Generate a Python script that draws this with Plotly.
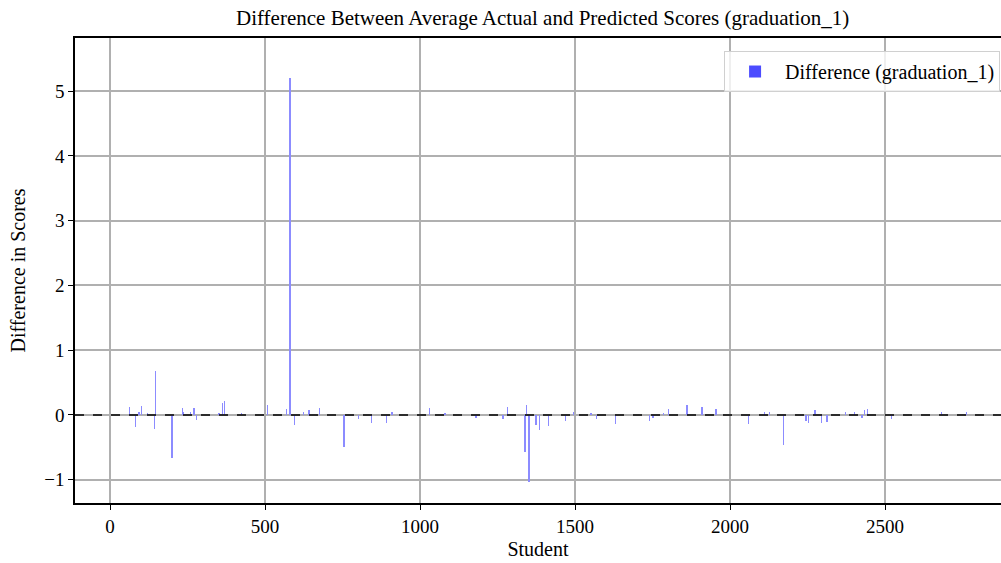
import plotly.graph_objects as go

# Students with a non-zero difference (all other students are 0)
students = [62, 82, 94, 101, 120, 144, 147, 200, 233, 237, 259, 271, 278, 352, 362, 369,
            425, 507, 570, 581, 595, 625, 642, 675, 755, 801, 843, 892, 909,
            1030, 1081, 1181, 1267, 1282, 1339, 1344, 1352, 1374, 1386, 1414, 1470, 1495,
            1551, 1569, 1631, 1741, 1751, 1785, 1802, 1861, 1910, 1955,
            2060, 2111, 2127, 2172, 2245, 2254, 2274, 2295, 2313, 2373, 2402, 2425, 2434,
            2444, 2520, 2683, 2763]
differences = [0.13, -0.19, 0.05, 0.14, 0.03, -0.21, 0.68, -0.66, 0.10, 0.04, 0.04, 0.11, -0.08,
               0.03, 0.19, 0.22, 0.03, 0.15, 0.09, 5.2, -0.16, 0.05, 0.08, 0.11, -0.49, -0.06,
               -0.13, -0.13, 0.04,
               0.11, 0.02, -0.04, -0.07, 0.12, -0.57, 0.16, -1.04, -0.16, -0.24, -0.17, -0.09,
               0.04, 0.03, -0.06, -0.14, -0.09, -0.05, 0.03, 0.09, 0.16, 0.13, 0.09,
               -0.14, 0.04, 0.04, -0.47, -0.09, -0.12, 0.08, -0.13, -0.11, 0.05, 0.04, -0.04,
               0.07, 0.09, -0.07, 0.05, 0.05]

x_ticks = [0, 500, 1000, 1500, 2000, 2500]
y_ticks = [-1, 0, 1, 2, 3, 4, 5]
y_tick_text = ["\u22121", "0", "1", "2", "3", "4", "5"]

FONT = "Liberation Serif, Times New Roman, serif"

fig = go.Figure()
fig.add_trace(go.Bar(x=students, y=differences, width=1.3,
                     marker=dict(color="#8c8cff", line=dict(width=0)),
                     showlegend=False, name="Difference (graduation_1)"))
fig.add_trace(go.Bar(x=[None], y=[None], name="Difference (graduation_1)",
                     marker=dict(color="rgba(0,0,255,0.7)", line=dict(width=0)),
                     showlegend=True))

fig.add_shape(type="line", xref="paper", yref="y", x0=0, x1=1, y0=0, y1=0,
              line=dict(color="black", width=1.5, dash="dash"))

fig.update_layout(
    width=1001, height=563,
    margin=dict(l=75, r=0, t=38, b=60, autoexpand=False),
    paper_bgcolor="white", plot_bgcolor="white",
    font=dict(family=FONT, size=20, color="black"),
    title=dict(text="Difference Between Average Actual and Predicted Scores (graduation_1)",
               x=0.505, xref="paper", xanchor="center", y=0.968, yanchor="middle",
               font=dict(family=FONT, size=21)),
    barmode="overlay", bargap=0,
    legend=dict(x=0.999, y=0.972, xanchor="right", yanchor="top", itemwidth=50,
                bgcolor="rgba(255,255,255,0.8)", bordercolor="#d0d0d0", borderwidth=1,
                font=dict(family=FONT, size=20)),
)
fig.update_xaxes(range=[-113, 2874], tickvals=x_ticks, ticks="outside", ticklen=5,
                 tickwidth=1.2, tickcolor="black", showgrid=True, gridcolor="#b0b0b0",
                 gridwidth=1.5, showline=True, linecolor="black", linewidth=1.5, mirror=True,
                 zeroline=False, automargin=False, tickfont=dict(size=19),
                 title=dict(text="Student", standoff=6, font=dict(size=20)))
fig.update_yaxes(range=[-1.36, 5.82], tickvals=y_ticks, ticktext=y_tick_text,
                 ticks="outside", ticklen=5, tickwidth=1.2, tickcolor="black",
                 showgrid=True, gridcolor="#b0b0b0", gridwidth=1.5, showline=True,
                 linecolor="black", linewidth=1.5, mirror=True, zeroline=False,
                 automargin=False, tickfont=dict(size=19),
                 title=dict(text="Difference in Scores", standoff=13, font=dict(size=20)))

fig.write_html("out.html", config={"displayModeBar": False},
               post_script="document.body.style.margin='0';document.body.style.overflow='hidden';")
